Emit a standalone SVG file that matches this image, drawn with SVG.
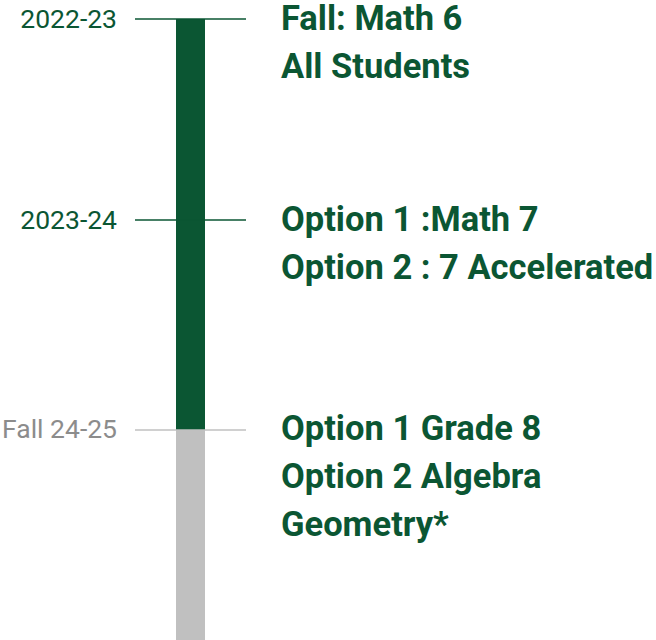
<svg xmlns="http://www.w3.org/2000/svg" width="656" height="640" viewBox="0 0 656 640">
<style>
.yr{font-family:Roboto,"Liberation Sans",sans-serif;font-size:26.5px;text-anchor:end}
.g{fill:#0b5633}
.gy{fill:#8c8c8c}
.lbl{font-family:Roboto,"Liberation Sans",sans-serif;font-size:34.5px;font-weight:bold;fill:#0b5633}
.tk{stroke-width:1.5}
</style>
<rect width="656" height="640" fill="#fff"/>
<g id="bar">
<rect x="176" y="19" width="29" height="411" fill="#0b5633"/>
<rect x="176" y="430" width="29" height="210" fill="#c0c0c0"/>
</g>
<g id="connectors">
<line class="tk" x1="135" y1="19" x2="246" y2="19" stroke="#0b5633"/>
<line class="tk" x1="135" y1="220" x2="246" y2="220" stroke="#0b5633"/>
<line class="tk" x1="135" y1="430" x2="246" y2="430" stroke="#c0c0c0"/>
</g>
<g id="node-2022">
<text class="yr g" x="117" y="28">2022-23</text>
<text class="lbl" x="281" y="30">Fall: Math 6</text>
<text class="lbl" x="281" y="78">All Students</text>
</g>
<g id="node-2023">
<text class="yr g" x="117" y="229">2023-24</text>
<text class="lbl" x="281" y="231">Option 1 :Math 7</text>
<text class="lbl" x="281" y="279">Option 2 : 7 Accelerated</text>
</g>
<g id="node-2024">
<text class="yr gy" x="117" y="438">Fall 24-25</text>
<text class="lbl" x="281" y="440">Option 1 Grade 8</text>
<text class="lbl" x="281" y="488">Option 2 Algebra</text>
<text class="lbl" x="281" y="536">Geometry*</text>
</g>
</svg>
